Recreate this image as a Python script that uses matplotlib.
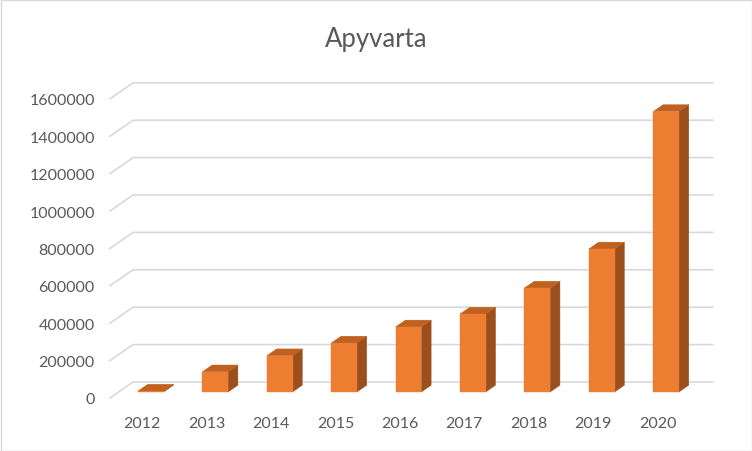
import matplotlib
matplotlib.use("Agg")
import matplotlib.pyplot as plt
from matplotlib.patches import Polygon, Rectangle

years = ["2012", "2013", "2014", "2015", "2016", "2017", "2018", "2019", "2020"]
values = [5000, 108000, 194000, 262000, 348000, 417000, 556000, 765000, 1500000]
yticks = [0, 200000, 400000, 600000, 800000, 1000000, 1200000, 1400000, 1600000]
title = "Apyvarta"

FRONT = "#ED7D31"
TOP = "#C0611F"
SIDE = "#9C4E1C"
GRID = "#D9D9D9"
TXT = "#595959"

W, H = 752, 452
fig = plt.figure(figsize=(W / 100, H / 100), dpi=100)
fig.patch.set_facecolor("white")

# axes area in pixels
left_px, right_px, bottom_px, top_px = 110, 712.7, 399, 80
ax = fig.add_axes([left_px / W, (H - bottom_px) / H,
                   (right_px - left_px) / W, (bottom_px - top_px) / H])
px_per_unit = 64.4
val_per_px = 5348.0
DX = 23 / px_per_unit
DY = 16 * val_per_px
n = len(years)
ax.set_xlim(-0.5, n - 0.5 + DX)
ax.set_ylim(0, (bottom_px - top_px) * val_per_px)

for s in ax.spines.values():
    s.set_visible(False)
ax.set_facecolor("none")

# walls / gridlines
for v in yticks:
    ax.plot([-0.5, -0.5 + DX, n - 0.5 + DX], [v, v + DY, v + DY],
            color=GRID, lw=1.2, clip_on=False, zorder=1)

# bars
w = 0.40
f1, f2 = 0.375, 0.80
for i, v in enumerate(values):
    x0 = i - w / 2 + f1 * DX
    y0 = f1 * DY
    ddx = (f2 - f1) * DX
    ddy = (f2 - f1) * DY
    # side
    ax.add_patch(Polygon([(x0 + w, y0), (x0 + w + ddx, y0 + ddy),
                          (x0 + w + ddx, y0 + v + ddy), (x0 + w, y0 + v)],
                         closed=True, facecolor=SIDE, edgecolor=SIDE, lw=0.3, zorder=3))
    # top
    ax.add_patch(Polygon([(x0, y0 + v), (x0 + w, y0 + v),
                          (x0 + w + ddx, y0 + v + ddy), (x0 + ddx, y0 + v + ddy)],
                         closed=True, facecolor=TOP, edgecolor=TOP, lw=0.3, zorder=3))
    # front
    ax.add_patch(Rectangle((x0, y0), w, v, facecolor=FRONT, edgecolor=FRONT,
                           lw=0.3, zorder=4))

font = "Lato"
ax.set_xticks(range(n))
ax.set_xticklabels(years)
ax.set_yticks(yticks)
ax.set_yticklabels([str(t) for t in yticks])
ax.tick_params(axis="both", length=0, colors=TXT, labelsize=11.5)
ax.tick_params(axis="x", pad=13)
ax.tick_params(axis="y", pad=11)
for lab in ax.get_xticklabels() + ax.get_yticklabels():
    lab.set_fontfamily(font)
    lab.set_color(TXT)

fig.text(0.5, (H - 40) / H, title, ha="center", va="center",
         fontsize=18.5, color=TXT, fontfamily=font)

# outer border
fig.add_artist(Rectangle((0.5 / W, 0.5 / H), (W - 1) / W, (H - 1) / H,
                         transform=fig.transFigure, fill=False,
                         edgecolor=GRID, lw=1))

fig.savefig("out.png", dpi=100)
